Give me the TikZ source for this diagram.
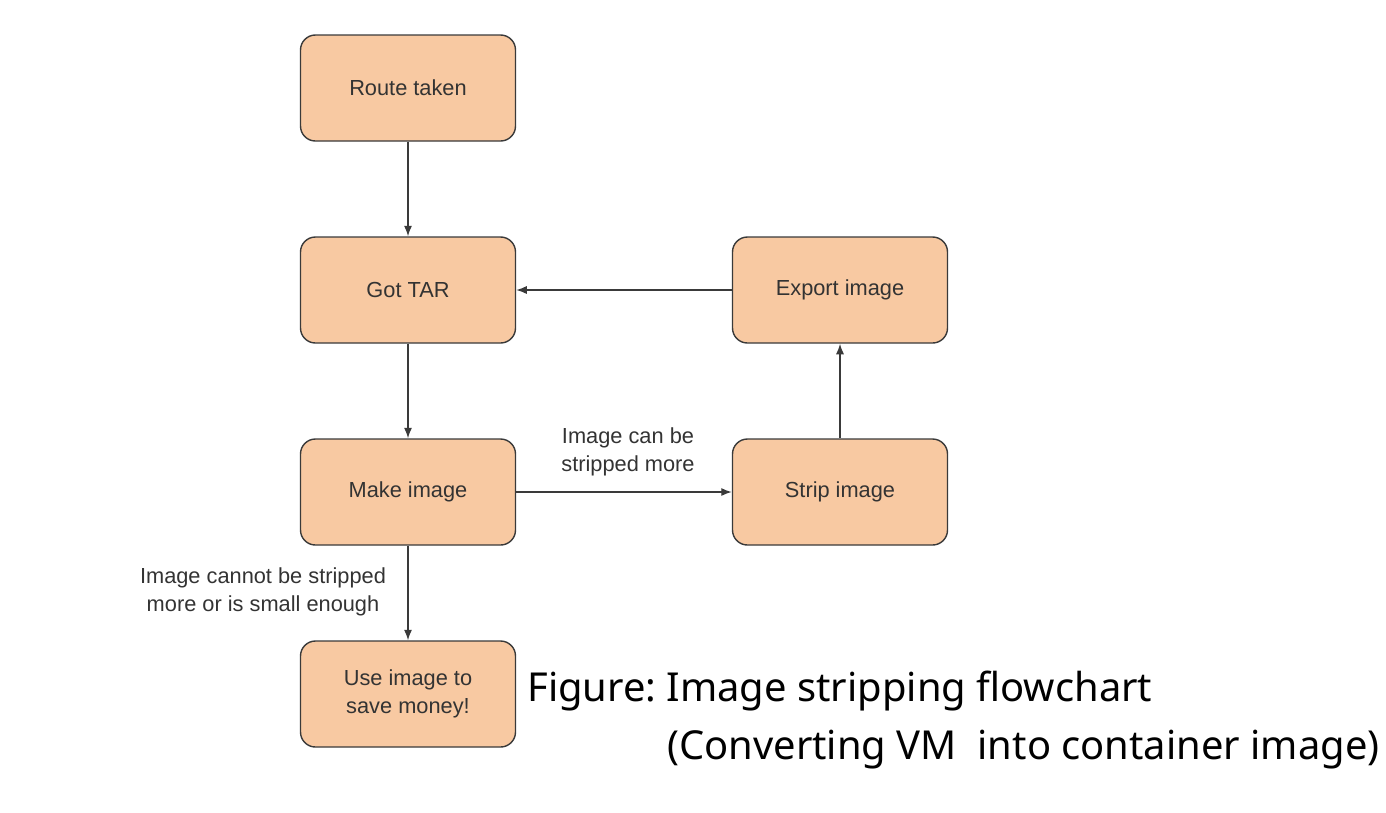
\documentclass[tikz,border=0pt]{standalone}
\usepackage{fontspec}
\setmainfont{Liberation Sans}
\newfontfamily\capfont{Noto Sans}
\usepackage{xcolor}
\usetikzlibrary{arrows.meta,positioning,shapes,calc}

\definecolor{boxfill}{HTML}{F8C9A2}
\definecolor{boxline}{HTML}{3A3A3A}
\definecolor{txtgray}{HTML}{333333}

\tikzset{
  stepbox/.style={draw=boxline, fill=boxfill, line width=0.8pt, rounded corners=8.5pt,
    minimum width=4.3cm, minimum height=2.12cm, align=center, text=txtgray,
    font=\fontsize{12.4}{16}\selectfont},
  flow/.style={draw=boxline, line width=0.8pt, -{Latex[length=6pt,width=4.6pt]}},
  lbl/.style={align=center, text=txtgray, font=\fontsize{12.4}{16}\selectfont},
  caption/.style={anchor=base west, inner sep=0pt, font=\capfont\fontsize{22.7}{26}\selectfont\frenchspacing}
}

\begin{document}
\begin{tikzpicture}
\useasboundingbox (0,0) rectangle (27.72,-16.24);

% Boxes
\node[stepbox] (route) at (8.16,-1.76) {Route taken};
\node[stepbox] (tar) at (8.16,-5.80) {Got TAR};
\node[stepbox] (make) at (8.16,-9.84) {Make image};
\node[stepbox] (use) at (8.16,-13.88) {Use image to\\save money!};
\node[stepbox] (export) at (16.80,-5.80) {Export image};
\node[stepbox] (strip) at (16.80,-9.84) {Strip image};

% Arrows
\draw[flow] (route) -- (tar);
\draw[flow] (tar) -- (make);
\draw[flow] (make) -- (strip);
\draw[flow] (strip) -- (export);
\draw[flow] (export) -- (tar);
\draw[flow] (make) -- (use);

% Edge labels
\node[lbl] (canlbl) at (12.56,-9.04) {Image can be\\stripped more};
\node[lbl] (cannotlbl) at (5.26,-11.84) {Image cannot be stripped\\more or is small enough};

% Caption
\node[caption] (cap1) at (10.54,-14.02) {Figure: Image stripping flowchart};
\node[caption] (cap2) at (13.34,-15.18) {(Converting VM\ \ into container image)};

\end{tikzpicture}
\end{document}
